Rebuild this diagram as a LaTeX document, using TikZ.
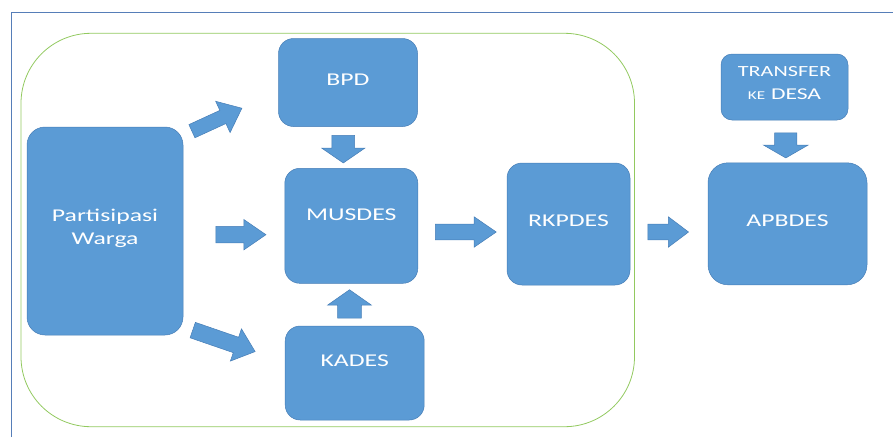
\documentclass[tikz,border=0pt]{standalone}
\usepackage{fontspec}
\usetikzlibrary{shapes.arrows}
\newfontfamily\blokfont[FakeStretch=1.43]{Carlito}
\definecolor{blokbiru}{RGB}{91,155,213}
\definecolor{blokgaris}{RGB}{70,125,182}
\definecolor{grupgaris}{RGB}{146,201,95}
\definecolor{bingkai}{RGB}{86,126,184}

\tikzstyle{blok}=[draw=blokgaris,fill=blokbiru,line width=0.5pt]
\tikzstyle{teks}=[text=white,font=\blokfont\fontsize{18}{23}\selectfont,align=center,inner sep=0pt]
\tikzstyle{panah}=[single arrow,draw=blokgaris,fill=blokbiru,line width=0.5pt,inner sep=0pt,anchor=tail,single arrow head indent=0pt]
\newcommand{\kotak}[7][15pt]{\node[blok,rounded corners=#1,minimum width=#4,minimum height=#5] (#2) at (#3) {};
  \node[teks] (#2t) at ([yshift=#7]#2.center) {#6};}
\newcommand{\panah}[7]{\node[panah,rotate=#3,minimum height=#4,inner ysep=#5,single arrow head extend=#6,single arrow tip angle=#7] (#1) at (#2) {};}

\begin{document}
\begin{tikzpicture}[x=1pt,y=-1pt]
    \useasboundingbox (0,0) rectangle (893,437);
    % bingkai dan kelompok desa
    \draw[bingkai,line width=0.8pt] (11,437) -- (11,12) -- (893,12);
    \draw[grupgaris,line width=0.8pt,rounded corners=70pt] (21,33.3) rectangle (634.5,426.7);

    \kotak[18pt]{warga}{105,231}{156pt}{208pt}{Partisipasi\\Warga}{2.5pt}
    \kotak{bpd}{348,82.5}{139pt}{88pt}{BPD}{3.2pt}
    \kotak{musdes}{351.3,225.8}{133pt}{115pt}{MUSDES}{10.8pt}
    \kotak{kades}{354.7,373}{139pt}{94pt}{KADES}{12pt}
    \kotak{rkpdes}{568.5,224}{123pt}{122pt}{RKPDES}{3.3pt}
    \kotak[20pt]{apbdes}{787.5,223.8}{159pt}{122pt}{APBDES}{3pt}
    \kotak[11pt]{transfer}{784.5,87}{127pt}{66pt}{\fontsize{15.5}{23}\selectfont TRANSFER\\{\fontsize{12}{23}\selectfont KE} \fontsize{16.5}{23}\selectfont DESA}{3.7pt}

    \panah{p1}{191.7,131.3}{24.7}{55pt}{7pt}{10pt}{79}
    \panah{p2}{215.7,234.7}{0}{50pt}{8pt}{7pt}{69}
    \panah{p3}{192.5,330}{-19}{66pt}{7.9pt}{8.9pt}{80}
    \panah{p4}{343.3,135}{-90}{27.7pt}{11.15pt}{10pt}{111}
    \panah{p5}{349.5,318.3}{90}{28.3pt}{11.7pt}{10pt}{110}
    \panah{p6}{435,232}{0}{61pt}{7.65pt}{7.35pt}{69}
    \panah{p7}{647.7,232}{0}{40.6pt}{7.65pt}{7.35pt}{74}
    \panah{p8}{785.8,132.7}{-90}{25pt}{10.85pt}{11.3pt}{120}
\end{tikzpicture}
\end{document}
